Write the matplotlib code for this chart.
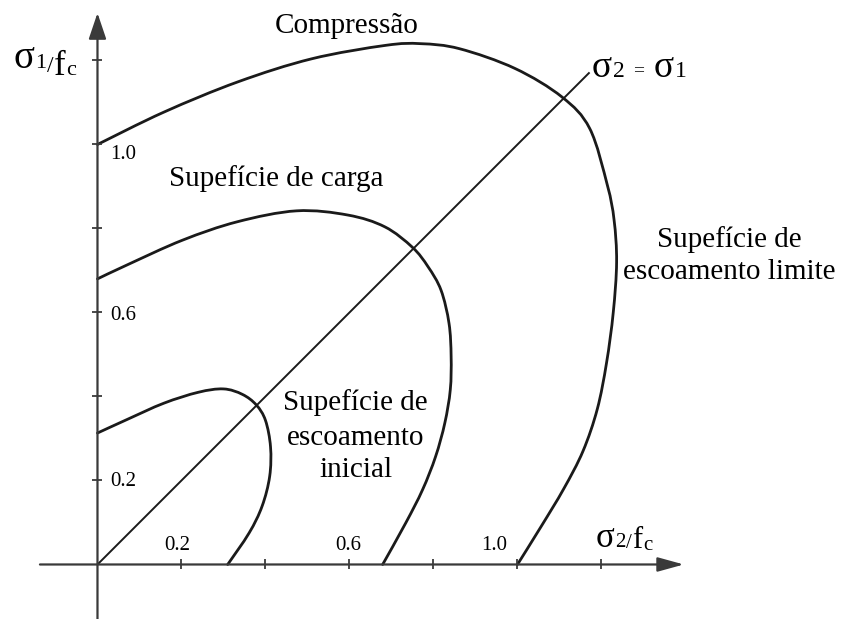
import numpy as np
import matplotlib
matplotlib.use("Agg")
import matplotlib.pyplot as plt
import matplotlib.transforms as mtransforms
from matplotlib.path import Path
from matplotlib.patches import PathPatch

plt.rcParams["font.family"] = ["Liberation Serif", "DejaVu Serif"]

inicial_x = [0.000, 0.070, 0.158, 0.240, 0.300, 0.345, 0.378, 0.400, 0.412, 0.410, 0.392, 0.361, 0.310]
inicial_y = [0.313, 0.345, 0.384, 0.410, 0.418, 0.405, 0.380, 0.343, 0.280, 0.210, 0.139, 0.075, 0.000]

carga_x = [0.000, 0.070, 0.202, 0.333, 0.474, 0.596, 0.684, 0.750, 0.787, 0.818, 0.837, 0.842,
           0.840, 0.827, 0.805, 0.774, 0.734, 0.679]
carga_y = [0.680, 0.713, 0.772, 0.816, 0.842, 0.832, 0.804, 0.755, 0.709, 0.653, 0.574, 0.495,
           0.416, 0.337, 0.257, 0.178, 0.099, 0.000]

limite_x = [0.000, 0.158, 0.334, 0.510, 0.686, 0.770, 0.862, 0.994, 1.106, 1.172, 1.214, 1.230,
            1.236, 1.228, 1.212, 1.190, 1.156, 1.110, 1.056, 1.000]
limite_y = [1.000, 1.077, 1.149, 1.204, 1.236, 1.240, 1.228, 1.181, 1.113, 1.038, 0.903, 0.820,
            0.720, 0.600, 0.480, 0.370, 0.270, 0.180, 0.090, 0.000]

diagonal_end = 1.17
tick_values = [0.2, 0.4, 0.6, 0.8, 1.0, 1.2]
tick_labels = ["0.2", "0.6", "1.0"]
x_label_pos = [0.190, 0.596, 0.944]
y_label_pos = [0.198, 0.594, 0.975]

AXIS_COLOR = "#3a3a3a"
CURVE_COLOR = "#1a1a1a"


def smooth_path(xs, ys):
    # Catmull-Rom through the traced points, as cubic Bezier segments
    pts = np.column_stack([xs, ys]).astype(float)
    verts = [pts[0]]
    codes = [Path.MOVETO]
    n = len(pts)
    for i in range(n - 1):
        p0 = pts[i - 1] if i > 0 else pts[i]
        p1, p2 = pts[i], pts[i + 1]
        p3 = pts[i + 2] if i + 2 < n else pts[i + 1]
        verts += [p1 + (p2 - p0) / 6.0, p2 - (p3 - p1) / 6.0, p2]
        codes += [Path.CURVE4] * 3
    return Path(verts, codes)


def mixed_text(ax, x, y, pieces):
    # pieces: (text, fontsize, vertical shift pt, gap after pt)
    fig = ax.figure
    renderer = fig.canvas.get_renderer()
    dx = 0.0
    for s, size, dy, gap in pieces:
        tr = ax.transData + mtransforms.ScaledTranslation(dx / 72.0, dy / 72.0, fig.dpi_scale_trans)
        t = ax.text(x, y, s, fontsize=size, transform=tr, ha="left", va="baseline", color="black")
        dx += t.get_window_extent(renderer).width * 72.0 / fig.dpi + gap


fig = plt.figure(figsize=(8.49, 6.19), dpi=100)
ax = fig.add_axes([0, 0, 1, 1])
ax.set_xlim(-0.2321, 1.7893)
ax.set_ylim(-0.1298, 1.3440)
ax.axis("off")

# axes with arrow heads
ax.annotate("", xy=(1.396, 0), xytext=(-0.137, 0),
            arrowprops=dict(arrowstyle="-|>,head_length=0.8,head_width=0.22", mutation_scale=20,
                            color=AXIS_COLOR, lw=1.6, shrinkA=0, shrinkB=0))
ax.annotate("", xy=(0, 1.313), xytext=(0, -0.13),
            arrowprops=dict(arrowstyle="-|>,head_length=0.8,head_width=0.27", mutation_scale=20,
                            color=AXIS_COLOR, lw=1.6, shrinkA=0, shrinkB=0))

ax.plot(tick_values, np.zeros(len(tick_values)), ls="none", marker="|", ms=7, mew=1.3, color=AXIS_COLOR)
ax.plot(np.zeros(len(tick_values)), tick_values, ls="none", marker="_", ms=7, mew=1.3, color=AXIS_COLOR)

for lab, xp in zip(tick_labels, x_label_pos):
    ax.text(xp, 0.045, lab, fontsize=15, ha="center", va="center")
for lab, yp in zip(tick_labels, y_label_pos):
    ax.text(0.030, yp, lab, fontsize=15, ha="left", va="center")

# sigma2 = sigma1 line
ax.plot([0, diagonal_end], [0, diagonal_end], color=CURVE_COLOR, lw=1.4)

for xs, ys in [(inicial_x, inicial_y), (carga_x, carga_y), (limite_x, limite_y)]:
    ax.add_patch(PathPatch(smooth_path(xs, ys), fill=False, lw=2.0, edgecolor=CURVE_COLOR,
                           capstyle="round", joinstyle="round"))

ax.text(0.594, 1.2655, "Compressão", fontsize=21, ha="center", va="baseline")
ax.text(0.425, 0.901, "Supefície de carga", fontsize=21, ha="center", va="baseline")
for line, yb in zip(["Supefície de", "escoamento", "inicial"], [0.368, 0.285, 0.208]):
    ax.text(0.615, yb, line, fontsize=21, ha="center", va="baseline")
for line, yb in zip(["Supefície de", "escoamento limite"], [0.756, 0.680]):
    ax.text(1.504, yb, line, fontsize=21, ha="center", va="baseline")

mixed_text(ax, -0.201, 1.182, [("σ", 28, 0, 1), ("1", 16, 0, 0.5), ("/", 17, -3, 0), ("f", 25, -5, 0.5), ("c", 16, -5, 0)])
mixed_text(ax, 1.185, 0.042, [("σ", 25, 0, 1), ("2", 15, 0, 0.5), ("/", 15, -1, 0), ("f", 22, -1, 0.5), ("c", 15, -2, 0)])
mixed_text(ax, 1.176, 1.161, [("σ", 27, 0, 1), ("2", 17, 0, 6), ("=", 14, 1, 7), ("σ", 27, 0, 1), ("1", 17, 0, 0)])

fig.savefig("out.png", dpi=100)
